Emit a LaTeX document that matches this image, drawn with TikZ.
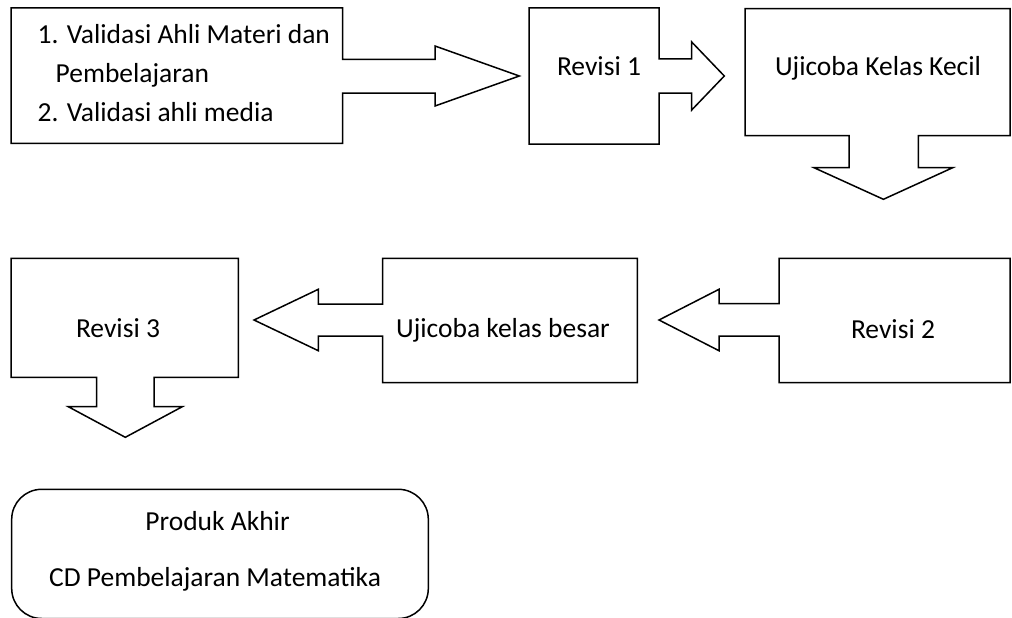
\documentclass[tikz,border=0pt]{standalone}
\usepackage{fontspec}
\setmainfont{Carlito}
\begin{document}
\begin{tikzpicture}[x=1pt,y=-1pt,
  callout/.style={draw=black,line width=1.5pt,line join=miter,fill=white},
  lbl/.style={inner sep=0pt,anchor=base,font=\fontsize{27.5}{39}\selectfont}]
\useasboundingbox (0,0) rectangle (1012,618);
\fill[white] (0,0) rectangle (1012,618);
% shape 1: validation box with right arrow
\draw[callout] (11,8) -- (342.7,8) -- (342.7,59.5) -- (435,59.5) -- (435,46) -- (519.3,76)
  -- (435,106) -- (435,93) -- (342.7,93) -- (342.7,143.3) -- (11,143.3) -- cycle;
\node[lbl,anchor=base west] (val) at (37.5,44) {%
  \begin{tabular}[t]{@{}l@{}}
  1. Validasi Ahli Materi dan\\
  \hspace*{18pt}Pembelajaran\\
  2. Validasi ahli media
  \end{tabular}};
% shape 2: Revisi 1
\draw[callout] (529,8) -- (659,8) -- (659,59) -- (691.7,59) -- (691.7,42) -- (724.3,76)
  -- (691.7,110) -- (691.7,93) -- (659,93) -- (659,144) -- (529,144) -- cycle;
\node[lbl] (rev1) at (599,76) {Revisi 1};
% shape 3: Ujicoba Kelas Kecil with down arrow
\draw[callout] (745,8.7) -- (1010,8.7) -- (1010,135.7) -- (918.3,135.7) -- (918.3,167.7)
  -- (952.7,167.7) -- (883.4,199.3) -- (814,167.7) -- (849,167.7) -- (849,135.7)
  -- (745,135.7) -- cycle;
\node[lbl] (kecil) at (878,76) {Ujicoba Kelas Kecil};
% shape 4: Revisi 2 with left arrow
\draw[callout] (1010,258.3) -- (779,258.3) -- (779,303.5) -- (719,303.5) -- (719,289.3)
  -- (659,320) -- (719,350.7) -- (719,336) -- (779,336) -- (779,382.7) -- (1010,382.7) -- cycle;
\node[lbl] (rev2) at (893,338) {Revisi 2};
% shape 5: Ujicoba kelas besar with left arrow
\draw[callout] (637.3,258.3) -- (382.7,258.3) -- (382.7,304) -- (318.3,304) -- (318.3,289.3)
  -- (254,320) -- (318.3,350.7) -- (318.3,336) -- (382.7,336) -- (382.7,382.7)
  -- (637.3,382.7) -- cycle;
\node[lbl] (besar) at (503,337) {Ujicoba kelas besar};
% shape 6: Revisi 3 with down arrow
\draw[callout] (11,258.3) -- (238.3,258.3) -- (238.3,377.3) -- (154,377.3) -- (154,406.7)
  -- (182.3,406.7) -- (125.3,437.3) -- (68.3,406.7) -- (96.7,406.7) -- (96.7,377.3)
  -- (11,377.3) -- cycle;
\node[lbl] (rev3) at (118,337) {Revisi 3};
% shape 7: final product
\draw[callout,rounded corners=30pt] (11.7,489.3) rectangle (428.3,618.5);
\node[lbl] (prod) at (217.5,530) {Produk Akhir};
\node[lbl] (cd) at (215,586.7) {CD Pembelajaran Matematika};
\end{tikzpicture}
\end{document}
